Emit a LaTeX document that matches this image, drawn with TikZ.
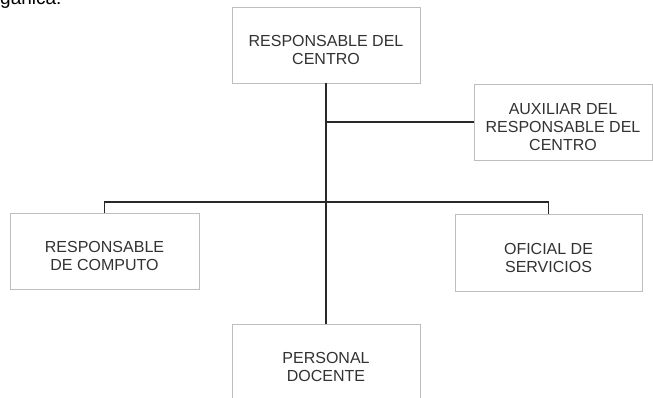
\documentclass[tikz,border=0pt]{standalone}
\usepackage{fontspec}
\setmainfont{Liberation Sans}
\usetikzlibrary{positioning,calc}
\definecolor{frame}{RGB}{190,190,190}
\definecolor{wire}{RGB}{40,40,40}
\definecolor{ink}{RGB}{50,50,50}
\tikzset{
  cargo/.style={draw=frame,line width=0.9pt,fill=white,minimum width=188pt,
    minimum height=76pt,inner sep=0pt,
    label={[rotulo]center:#1}},
  rotulo/.style={align=center,text=ink,font=\fontsize{16}{18}\selectfont,
    yshift=-5pt,inner sep=0pt},
  enlace/.style={draw=wire,line width=1.9pt},
}
\begin{document}
\begin{tikzpicture}[x=1pt,y=-1pt]
        \useasboundingbox (0,0) rectangle (653,397);
        \clip (0,0) rectangle (653,397);
        \node[anchor=base west,inner sep=0pt,font=\fontsize{19}{20}\selectfont] (titulo) at (0,4.5) {gánica:};
        \node[cargo={RESPONSABLE DEL\\CENTRO}] (centro) at (326,45) {};
        \node[cargo={AUXILIAR DEL\\RESPONSABLE DEL\\CENTRO},minimum width=178pt] (aux) at (563,122) {};
        \node[cargo={RESPONSABLE\\DE COMPUTO},minimum width=189pt] (computo) at (104.5,251) {};
        \node[cargo={OFICIAL DE\\SERVICIOS},minimum width=187pt,minimum height=77pt] (oficial) at (548.5,252.5) {};
        \node[cargo={PERSONAL\\DOCENTE}] (docente) at (326,362) {};
        \coordinate (ramaA) at (centro.south |- aux.west);
        \coordinate (ramaB) at (326,202);
        \draw[enlace] (centro.south) -- (docente.north);
        \draw[enlace] (ramaA) -- (aux.west);
        \draw[enlace] (computo.north) |- (ramaB) -| (oficial.north);
      \end{tikzpicture}
\end{document}
